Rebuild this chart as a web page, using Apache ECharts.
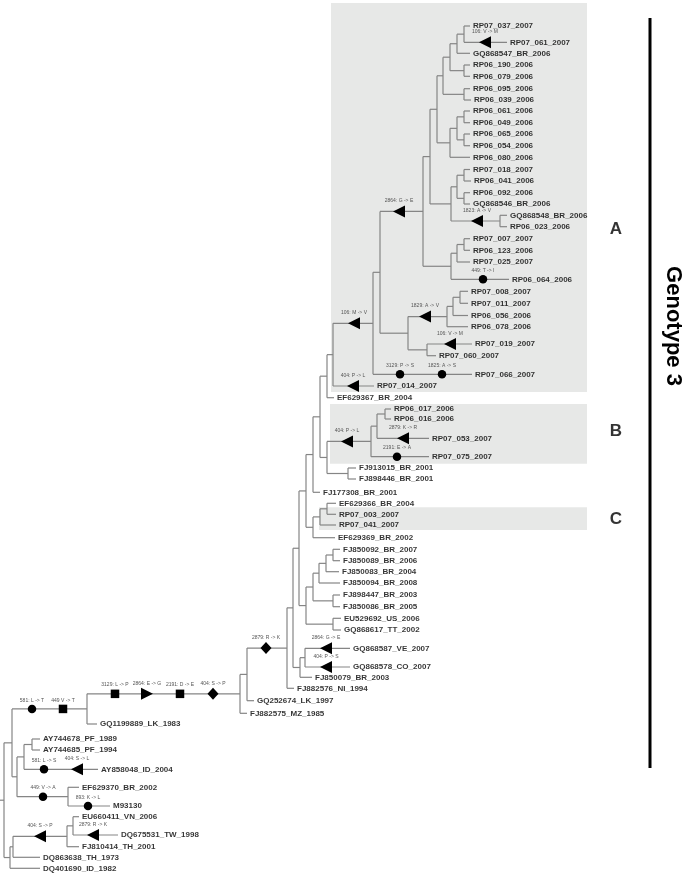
<!DOCTYPE html>
<html>
<head>
<meta charset="utf-8">
<script src="https://cdn.jsdelivr.net/npm/echarts@6/dist/echarts.min.js"></script>
<style>
html, body { margin: 0; padding: 0; background: #fff; }
#chart { width: 687px; height: 875px; }
</style>
</head>
<body>
<div id="chart"></div>
<script>
// leaves, top to bottom
const leafNames = ['RP07_037_2007', 'RP07_061_2007', 'GQ868547_BR_2006', 'RP06_190_2006', 'RP06_079_2006',
  'RP06_095_2006', 'RP06_039_2006', 'RP06_061_2006', 'RP06_049_2006', 'RP06_065_2006', 'RP06_054_2006',
  'RP06_080_2006', 'RP07_018_2007', 'RP06_041_2006', 'RP06_092_2006', 'GQ868546_BR_2006', 'GQ868548_BR_2006',
  'RP06_023_2006', 'RP07_007_2007', 'RP06_123_2006', 'RP07_025_2007', 'RP06_064_2006', 'RP07_008_2007',
  'RP07_011_2007', 'RP06_056_2006', 'RP06_078_2006', 'RP07_019_2007', 'RP07_060_2007', 'RP07_066_2007',
  'RP07_014_2007', 'EF629367_BR_2004', 'RP06_017_2006', 'RP06_016_2006', 'RP07_053_2007', 'RP07_075_2007',
  'FJ913015_BR_2001', 'FJ898446_BR_2001', 'FJ177308_BR_2001', 'EF629366_BR_2004', 'RP07_003_2007',
  'RP07_041_2007', 'EF629369_BR_2002', 'FJ850092_BR_2007', 'FJ850089_BR_2006', 'FJ850083_BR_2004',
  'FJ850094_BR_2008', 'FJ898447_BR_2003', 'FJ850086_BR_2005', 'EU529692_US_2006', 'GQ868617_TT_2002',
  'GQ868587_VE_2007', 'GQ868578_CO_2007', 'FJ850079_BR_2003', 'FJ882576_NI_1994', 'GQ252674_LK_1997',
  'FJ882575_MZ_1985', 'GQ1199889_LK_1983', 'AY744678_PF_1989', 'AY744685_PF_1994', 'AY858048_ID_2004',
  'EF629370_BR_2002', 'M93130', 'EU660411_VN_2006', 'DQ675531_TW_1998', 'FJ810414_TH_2001',
  'DQ863638_TH_1973', 'DQ401690_ID_1982']
// row position of each leaf
const leafY = [26, 42.3, 53.3, 65, 76.3, 88.7, 100, 111, 122.7, 134,
  145.7, 157.3, 169.5, 181, 192.7, 204, 215.3, 226.7, 238.7, 250.3,
  262, 279.3, 291.3, 303.3, 315.5, 326.7, 344, 355.7, 374.3, 386,
  397.7, 409, 419, 438.3, 456.7, 468, 479, 492.3, 503.3, 514.3,
  525, 537.7, 549.3, 560.7, 571.7, 583, 595, 606.7, 618.3, 630,
  648.3, 667, 677.3, 688.3, 700.7, 713.3, 724, 739, 750, 769.3,
  787.3, 806, 816.7, 835, 846.7, 857.3, 868.3]
// depth of each leaf tip
const leafTipX = [470, 507, 470, 470, 470, 470, 471, 470, 470, 470,
  470, 470, 470, 471, 470, 470, 507, 507, 470, 470,
  470, 509, 468, 468, 468, 468, 472, 436, 472, 374,
  334, 391, 391, 429, 429, 356, 356, 320, 336, 336,
  336, 335, 340, 340, 339, 340, 340, 340, 341, 341,
  350, 350, 312, 294, 254, 247, 97, 40, 40, 98,
  79, 110, 79, 118, 79, 40, 40]

// internal nodes: id, depth, children
const nodeIds = ['n1', 'n2', 'n3', 'n4', 'n5', 'n6', 'n7', 'n8', 'n9', 'n10',
  'n11', 'n12', 'n13', 'n14', 'n15', 'n16', 'n17', 'n18', 'n19', 'n20',
  'n21', 'n22', 'n23', 'n24', 'n25', 'n26', 'n27', 'n28', 'n29', 'n30',
  'n31', 'n32', 'n33', 'n34', 'n35', 'n36', 'n37', 'n38', 'n39', 'n40',
  'n41', 'n43', 'n44', 'n45', 'n46', 'n47', 'n48', 'n49', 'n42', 'n51',
  'n52', 'n50', 'n53', 'n54', 'n55', 'n56', 'n57', 'n58', 'n59', 'n60',
  'n61', 'n62', 'n63', 'n64', 'n65', 'root']
const nodeX = [464, 457, 464, 450, 464, 443, 464, 464, 457, 450,
  437, 464, 464, 457, 500, 451, 430, 464, 457, 451,
  423, 460, 453, 447, 427, 408, 380, 373, 333, 327,
  385, 377, 371, 348, 327, 320, 313, 327, 320, 313,
  306, 333, 326, 319, 333, 313, 333, 306, 299, 305,
  300, 293, 287, 247, 240, 87, 32, 24, 68, 17,
  12, 73, 67, 13, 10, 4]
const nodeKids = [
  ['RP07_037_2007', 'RP07_061_2007'], ['n1', 'GQ868547_BR_2006'], ['RP06_190_2006', 'RP06_079_2006'],
  ['n2', 'n3'], ['RP06_095_2006', 'RP06_039_2006'], ['n4', 'n5'], ['RP06_061_2006', 'RP06_049_2006'],
  ['RP06_065_2006', 'RP06_054_2006'], ['n7', 'n8'], ['n9', 'RP06_080_2006'],
  ['n6', 'n10'], ['RP07_018_2007', 'RP06_041_2006'], ['RP06_092_2006', 'GQ868546_BR_2006'],
  ['n12', 'n13'], ['GQ868548_BR_2006', 'RP06_023_2006'], ['n14', 'n15'], ['n11', 'n16'],
  ['RP07_007_2007', 'RP06_123_2006'], ['n18', 'RP07_025_2007'], ['n19', 'RP06_064_2006'],
  ['n17', 'n20'], ['RP07_008_2007', 'RP07_011_2007'], ['n22', 'RP06_056_2006'], ['n23', 'RP06_078_2006'],
  ['RP07_019_2007', 'RP07_060_2007'], ['n24', 'n25'], ['n21', 'n26'], ['n27', 'RP07_066_2007'],
  ['n28', 'RP07_014_2007'], ['n29', 'EF629367_BR_2004'],
  ['RP06_017_2006', 'RP06_016_2006'], ['n31', 'RP07_053_2007'], ['n32', 'RP07_075_2007'],
  ['FJ913015_BR_2001', 'FJ898446_BR_2001'], ['n33', 'n34'], ['n30', 'n35'], ['n36', 'FJ177308_BR_2001'],
  ['EF629366_BR_2004', 'RP07_003_2007'], ['n38', 'RP07_041_2007'], ['n39', 'EF629369_BR_2002'],
  ['n37', 'n40'], ['FJ850092_BR_2007', 'FJ850089_BR_2006'], ['n43', 'FJ850083_BR_2004'],
  ['n44', 'FJ850094_BR_2008'], ['FJ898447_BR_2003', 'FJ850086_BR_2005'], ['n45', 'n46'],
  ['EU529692_US_2006', 'GQ868617_TT_2002'], ['n47', 'n48'], ['n41', 'n49'],
  ['GQ868587_VE_2007', 'GQ868578_CO_2007'],
  ['n51', 'FJ850079_BR_2003'], ['n42', 'n52'], ['n50', 'FJ882576_NI_1994'], ['n53', 'GQ252674_LK_1997'],
  ['n54', 'FJ882575_MZ_1985'], ['n55', 'GQ1199889_LK_1983'], ['AY744678_PF_1989', 'AY744685_PF_1994'],
  ['n57', 'AY858048_ID_2004'], ['EF629370_BR_2002', 'M93130'], ['n58', 'n59'],
  ['n56', 'n60'], ['EU660411_VN_2006', 'DQ675531_TW_1998'], ['n62', 'FJ810414_TH_2001'],
  ['n63', 'DQ863638_TH_1973'], ['n64', 'DQ401690_ID_1982'], ['n61', 'n65']
]

// mutations: branch they sit on, depth, marker, text
const mutOn = ['RP07_061_2007', 'n15', 'RP06_064_2006', 'n21', 'n24', 'RP07_019_2007', 'RP07_066_2007',
  'RP07_066_2007', 'n28', 'RP07_014_2007', 'n33', 'RP07_053_2007', 'RP07_075_2007', 'GQ868587_VE_2007',
  'GQ868578_CO_2007', 'n53', 'n55', 'n55', 'n55', 'n55', 'n56', 'n56', 'AY858048_ID_2004',
  'AY858048_ID_2004', 'n59', 'M93130', 'DQ675531_TW_1998', 'n63']
const mutX = [485, 477, 483, 399, 425, 450, 400, 442, 354, 353, 347, 403, 397, 326,
  326, 266, 115, 147, 180, 213, 32, 63, 44, 77, 43, 88, 93, 40]
const mutShape = ['tri', 'tri', 'dot', 'tri', 'tri', 'tri', 'dot', 'dot', 'tri', 'tri', 'tri', 'tri', 'dot', 'tri',
  'tri', 'diamond', 'square', 'triR', 'square', 'diamond', 'dot', 'square', 'dot', 'tri', 'dot', 'dot', 'tri', 'tri']
const mutText = ['106: V -> M', '1823: A -> V', '449: T -> I', '2864: G -> E', '1829: A -> V', '106: V -> M',
  '3129: P -> S', '1825: A -> S', '106: M -> V', '404: P -> L', '404: P -> L', '2879: K -> R', '2191: E -> A',
  '2864: G -> E', '404: P -> S', '2879: R -> K', '3129: L -> P', '2864: E -> G', '2191: D -> E', '404: S -> P',
  '581: L -> T', '449 V -> T', '581: L -> S', '404: S -> L', '449: V -> A', '893: K -> L', '2879: R -> K',
  '404: S -> P']

// shaded clades
const cladeLabels = ['A', 'B', 'C']
const cladeFirst = ['RP07_037_2007', 'RP06_017_2006', 'RP07_003_2007']
const cladeLast = ['RP07_014_2007', 'RP07_075_2007', 'RP07_041_2007']
const cladeLabelY = [229, 431, 519]

// ---- layout helpers ----
const leafIdx = {}
leafNames.forEach((n, i) => { leafIdx[n] = i })
const nodeIdx = {}
nodeIds.forEach((n, i) => { nodeIdx[n] = i })

const yCache = {}
function yOf (id) {
  if (id in leafIdx) return leafY[leafIdx[id]]
  if (id in yCache) return yCache[id]
  const kids = nodeKids[nodeIdx[id]]
  const y = (yOf(kids[0]) + yOf(kids[kids.length - 1])) / 2
  yCache[id] = y
  return y
}
function xOf (id) {
  if (id in leafIdx) return leafTipX[leafIdx[id]]
  return nodeX[nodeIdx[id]]
}

// branch segments
const segments = []
nodeIds.forEach((id, i) => {
  const x = nodeX[i]
  const kids = nodeKids[i]
  segments.push([x, yOf(kids[0]), x, yOf(kids[kids.length - 1])])
  kids.forEach(k => {
    segments.push([x, yOf(k), xOf(k), yOf(k)])
  })
})
segments.push([0, yOf('root'), xOf('root'), yOf('root')])

// clade boxes
const boxPadTop = [23, 5, 7]
const boxPadBottom = [6, 7, 5]
const boxLeft = [331, 330, 319]
const boxes = cladeLabels.map((c, i) => [boxLeft[i], yOf(cladeFirst[i]) - boxPadTop[i], 587, yOf(cladeLast[i]) + boxPadBottom[i]])

const shapeStyle = {
  tri: { symbol: 'triangle', symbolRotate: 90, symbolSize: [12, 12] },
  triR: { symbol: 'triangle', symbolRotate: -90, symbolSize: [12, 12] },
  dot: { symbol: 'circle', symbolRotate: 0, symbolSize: 8.5 },
  square: { symbol: 'rect', symbolRotate: 0, symbolSize: 8.5 },
  diamond: { symbol: 'diamond', symbolRotate: 0, symbolSize: [11, 12] }
}
const mutData = mutOn.map((b, i) => Object.assign({
  value: [mutX[i], yOf(b)],
  label: { formatter: mutText[i] }
}, shapeStyle[mutShape[i]]))

const chart = echarts.init(document.getElementById('chart'))
chart.setOption({
  animation: false,
  grid: { left: 0, right: 0, top: 0, bottom: 0 },
  xAxis: { type: 'value', min: 0, max: 687, show: false },
  yAxis: { type: 'value', min: 0, max: 875, inverse: true, show: false },
  series: [
    {
      type: 'custom',
      silent: true,
      z: 1,
      data: boxes,
      encode: { x: [0, 2], y: [1, 3] },
      renderItem: (params, api) => {
        const p1 = api.coord([api.value(0), api.value(1)])
        const p2 = api.coord([api.value(2), api.value(3)])
        return {
          type: 'rect',
          shape: { x: p1[0], y: p1[1], width: p2[0] - p1[0], height: p2[1] - p1[1] },
          style: { fill: '#e7e8e7' }
        }
      }
    },
    {
      type: 'custom',
      silent: true,
      z: 2,
      data: segments,
      encode: { x: [0, 2], y: [1, 3] },
      renderItem: (params, api) => {
        const p1 = api.coord([api.value(0), api.value(1)])
        const p2 = api.coord([api.value(2), api.value(3)])
        return {
          type: 'line',
          shape: { x1: p1[0], y1: p1[1], x2: p2[0], y2: p2[1] },
          style: { stroke: '#858585', lineWidth: 1.2 }
        }
      }
    },
    {
      // leaf names
      type: 'scatter',
      silent: true,
      z: 3,
      symbolSize: 0,
      data: leafNames.map((n, i) => [leafTipX[i], leafY[i], n]),
      label: {
        show: true,
        position: 'right',
        distance: 3,
        formatter: p => p.value[2],
        fontFamily: 'Liberation Sans',
        fontWeight: 'bold',
        fontSize: 8,
        color: '#000'
      }
    },
    {
      // mutation markers
      type: 'scatter',
      silent: true,
      z: 4,
      data: mutData,
      itemStyle: { color: '#000', opacity: 1 },
      label: {
        show: true,
        position: 'top',
        distance: 2,
        fontFamily: 'Liberation Sans',
        fontSize: 5,
        color: '#555'
      }
    },
    {
      // clade letters
      type: 'scatter',
      silent: true,
      z: 5,
      symbolSize: 0,
      data: cladeLabels.map((c, i) => [616, cladeLabelY[i], c]),
      label: {
        show: true,
        position: 'inside',
        formatter: p => p.value[2],
        fontFamily: 'Liberation Sans',
        fontWeight: 'bold',
        fontSize: 17,
        color: '#000'
      }
    }
  ],
  graphic: [
    {
      type: 'line',
      shape: { x1: 650, y1: 18, x2: 650, y2: 768 },
      style: { stroke: '#000', lineWidth: 3 }
    },
    {
      type: 'text',
      x: 673,
      y: 326,
      rotation: -Math.PI / 2,
      style: {
        text: 'Genotype 3',
        font: 'bold 22px "Liberation Sans"',
        fill: '#000',
        align: 'center',
        verticalAlign: 'middle'
      }
    }
  ]
})
</script>
</body>
</html>
